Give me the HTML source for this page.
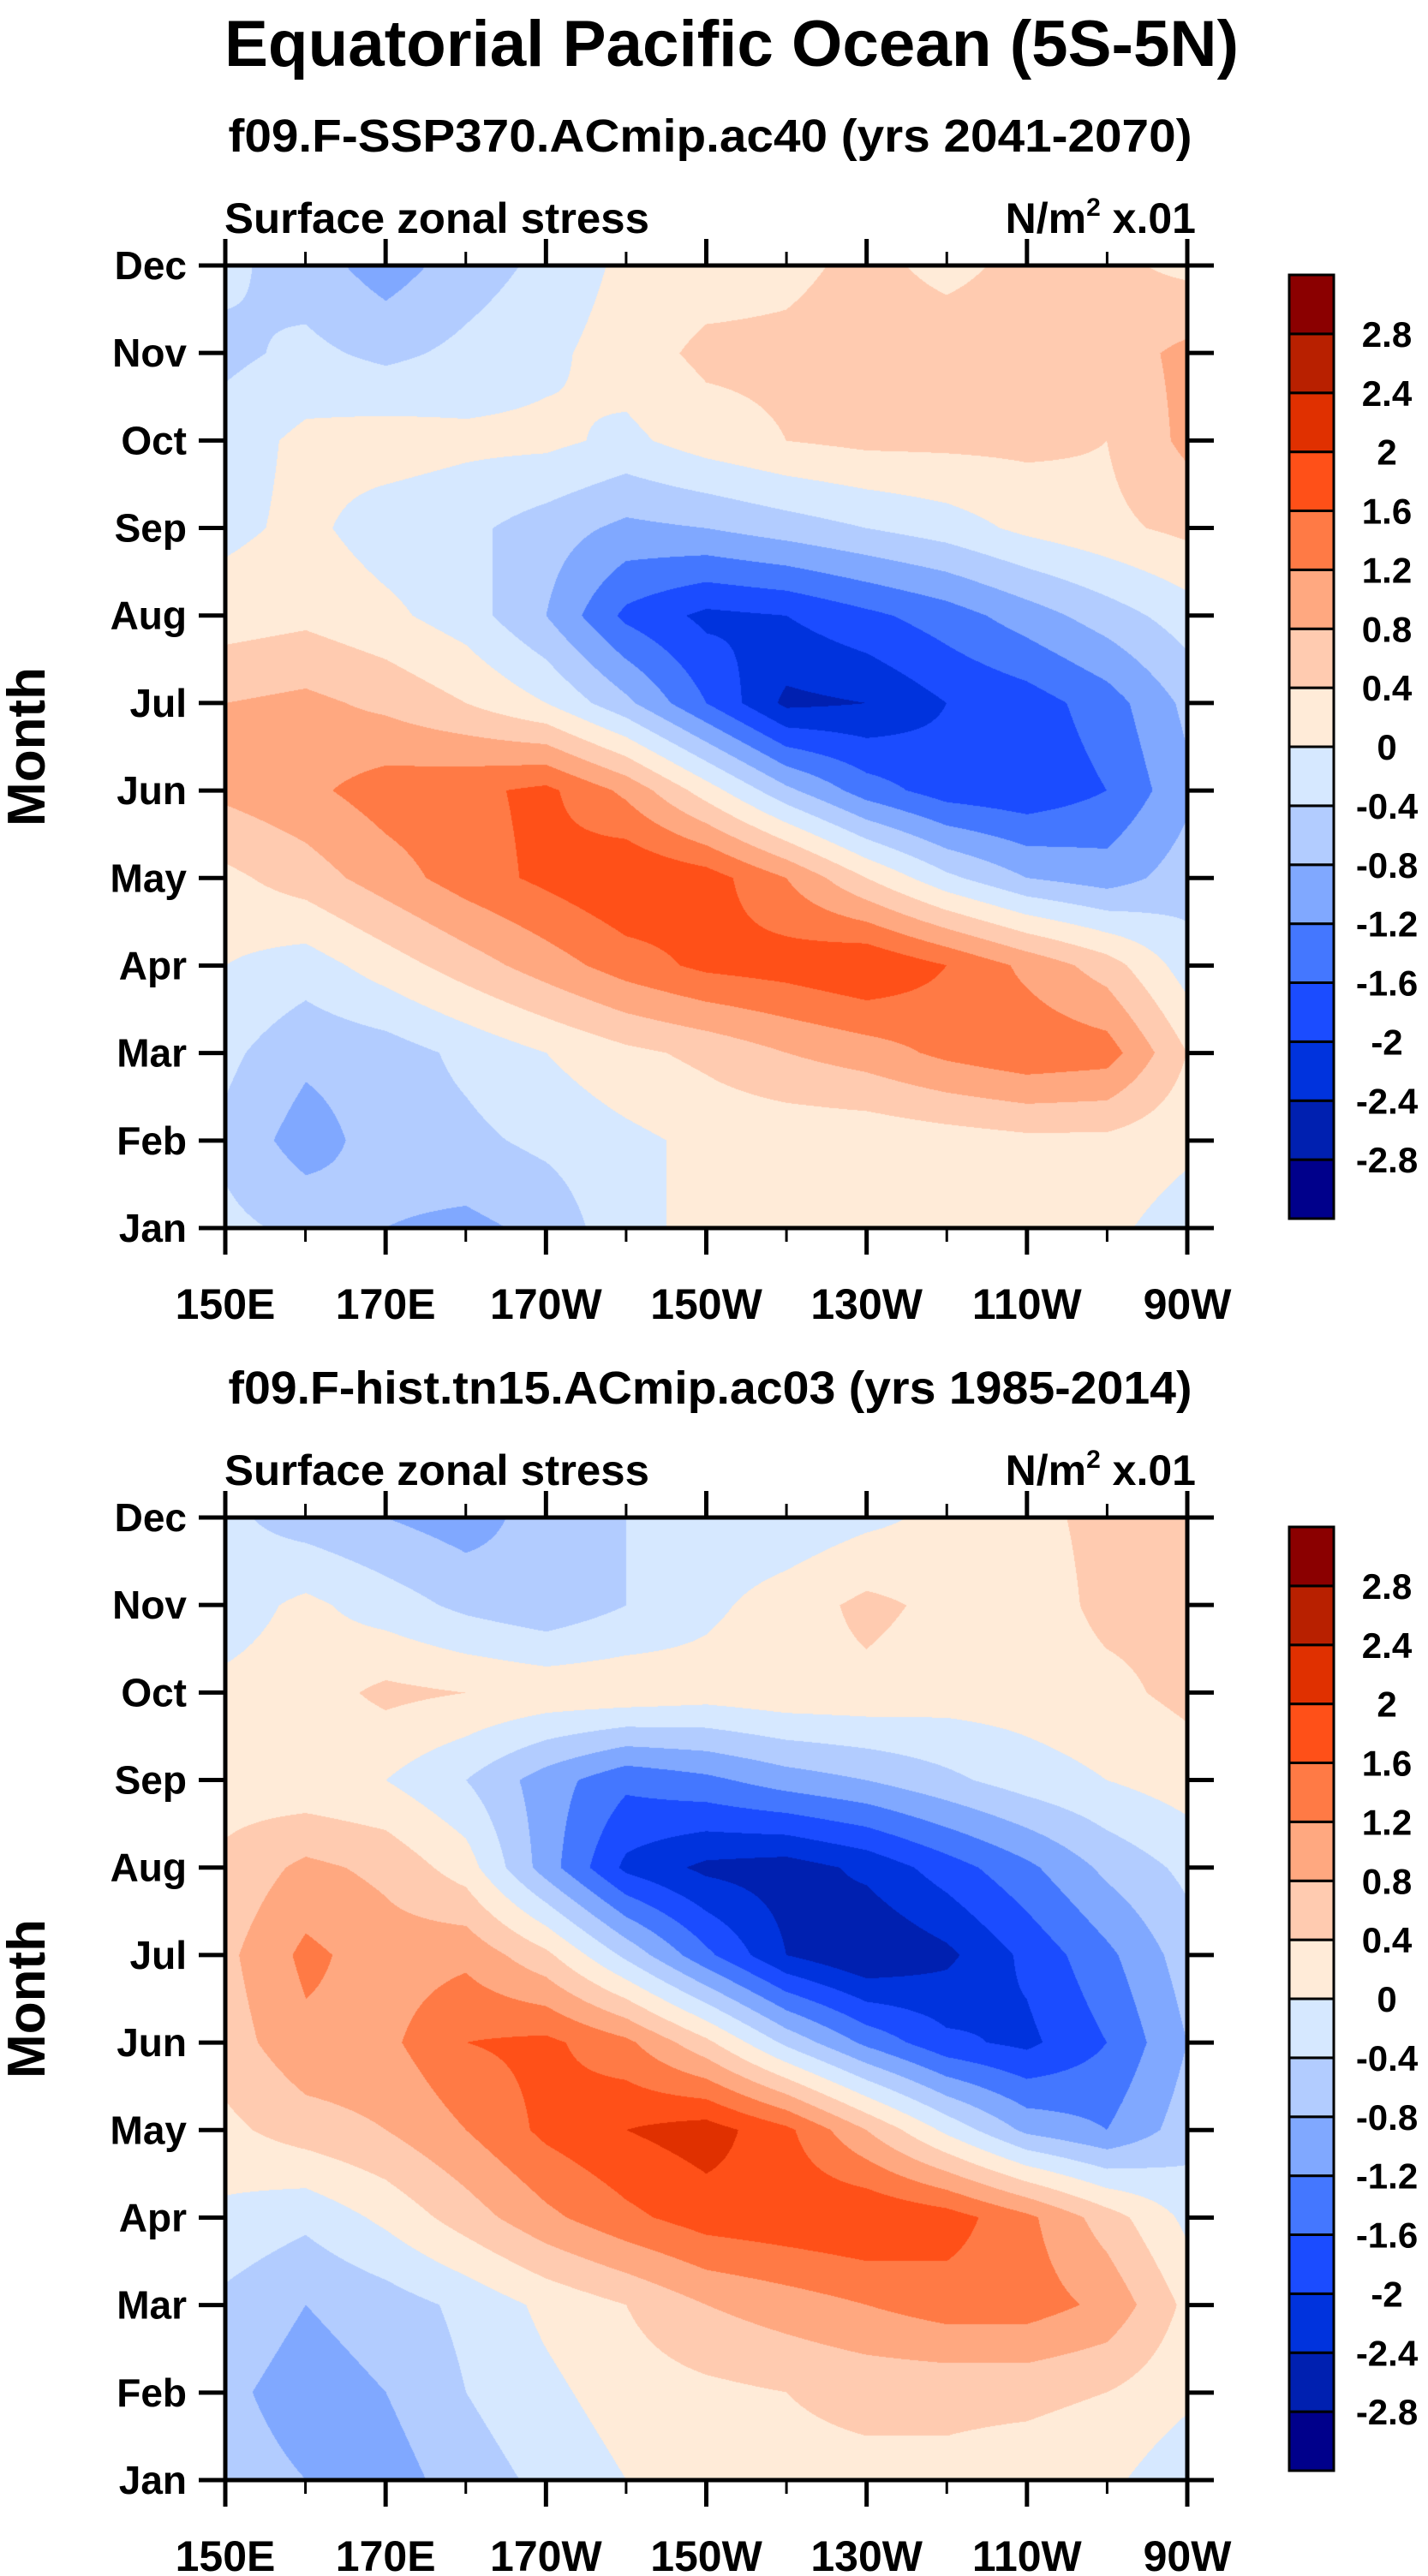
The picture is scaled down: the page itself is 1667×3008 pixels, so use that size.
<!DOCTYPE html>
<html><head><meta charset="utf-8">
<style>
html,body{margin:0;padding:0;background:#fff;}
#wrap{position:relative;width:1667px;height:3008px;overflow:hidden;}
canvas{position:absolute;}
svg{position:absolute;left:0;top:0;}
text{font-family:"Liberation Sans",Arial,sans-serif;font-weight:bold;fill:#000;}
</style></head>
<body>
<div id="wrap">
<canvas id="c1" width="1123" height="1124" style="left:263px;top:310px"></canvas>
<canvas id="c2" width="1123" height="1124" style="left:263px;top:1772px"></canvas>
<svg id="ov" width="1667" height="3008"></svg>
</div>
<script>
const lons = [150,160,170,180,190,200,210,220,230,240,250,260,270];
const lonLabels = ["150E","170E","170W","150W","130W","110W","90W"];
const months = ["Jan","Feb","Mar","Apr","May","Jun","Jul","Aug","Sep","Oct","Nov","Dec"];
const levels = [-2.8,-2.4,-2,-1.6,-1.2,-0.8,-0.4,0,0.4,0.8,1.2,1.6,2,2.4,2.8];
const levelLabels = ["-2.8","-2.4","-2","-1.6","-1.2","-0.8","-0.4","0","0.4","0.8","1.2","1.6","2","2.4","2.8"];
const colors = ["#00008b","#0020b0","#0033dd","#1b4cff","#4477ff","#80a8ff","#b2ccff","#d6e8ff","#ffebd8","#ffcbb0","#ffa880","#ff7a45","#ff5018","#e03000","#b82000","#8b0000"];
// rows Jan..Dec, columns lons
const ssp370 = [
[-0.3,-0.5,-0.8,-0.9,-0.7,-0.1,0.1,0.2,0.2,0.3,0.2,0.1,-0.2],
[-0.5,-1.0,-0.6,-0.5,-0.3,-0.1,0.1,0.1,0.1,0.2,0.3,0.3,0.1],
[-0.3,-0.7,-0.6,-0.3,0.0,0.3,0.5,0.8,1.0,1.3,1.5,1.4,0.4],
[0.0,-0.2,0.2,0.6,1.0,1.4,1.7,1.8,2.0,1.6,1.1,0.6,-0.2],
[0.3,0.6,1.0,1.4,1.7,2.0,1.8,1.2,0.4,-0.3,-0.8,-1.0,-0.6],
[0.9,1.1,1.4,1.5,1.7,1.1,0.2,-0.7,-1.4,-1.8,-1.9,-1.6,-0.9],
[0.8,0.9,0.7,0.4,0.0,-0.7,-1.6,-2.5,-2.4,-2.0,-1.8,-1.4,-0.7],
[0.2,0.3,0.1,-0.2,-0.8,-1.7,-2.1,-2.0,-1.7,-1.4,-1.0,-0.6,-0.2],
[-0.1,0.1,-0.2,-0.3,-0.6,-0.9,-0.8,-0.6,-0.4,-0.2,0.1,0.3,0.5],
[-0.2,0.1,0.2,0.1,0.1,-0.1,0.2,0.4,0.5,0.5,0.5,0.4,0.9],
[-0.5,-0.3,-0.5,-0.3,-0.1,0.2,0.5,0.5,0.6,0.6,0.6,0.6,0.9],
[-0.3,-0.6,-1.0,-0.6,-0.3,0.1,0.2,0.3,0.5,0.3,0.5,0.5,0.3]
];
const hist = [
[-0.6,-0.8,-1.0,-0.6,-0.3,0.0,0.2,0.3,0.3,0.3,0.2,0.1,-0.3],
[-0.7,-1.0,-0.8,-0.4,-0.1,0.2,0.3,0.4,0.5,0.5,0.5,0.4,0.1],
[-0.5,-0.8,-0.6,-0.3,0.1,0.4,0.8,1.0,1.2,1.4,1.4,1.1,0.3],
[-0.1,-0.3,0.1,0.6,1.1,1.5,1.8,1.9,2.0,1.8,1.3,0.6,-0.1],
[0.3,0.6,0.8,1.2,1.7,2.0,2.2,1.7,0.8,-0.1,-0.9,-1.2,-0.6],
[0.6,1.1,1.1,1.6,1.7,1.3,0.5,-0.5,-1.3,-1.9,-2.1,-1.6,-0.8],
[0.7,1.3,1.0,1.1,0.5,-0.5,-1.5,-2.4,-2.8,-2.5,-1.9,-1.3,-0.6],
[0.5,0.9,0.7,0.2,-1.0,-2.1,-2.5,-2.6,-2.3,-1.8,-1.3,-0.7,-0.3],
[0.2,0.1,0.0,-0.4,-1.0,-1.5,-1.3,-1.0,-0.8,-0.5,-0.2,0.0,0.2],
[0.1,0.2,0.5,0.4,0.3,0.3,0.2,0.3,0.3,0.2,0.2,0.3,0.5],
[-0.2,0.1,-0.2,-0.5,-0.7,-0.4,-0.1,0.2,0.5,0.3,0.2,0.5,0.5],
[-0.3,-0.6,-0.8,-1.0,-0.6,-0.4,-0.3,-0.3,-0.1,0.1,0.3,0.5,0.5]
];

const PX0=263, PX1=1386, PW=PX1-PX0, PH=1124;
function xScale(lon){return PX0+(lon-150)/120*PW;}
function colorFor(v){let i=0;while(i<levels.length&&v>=levels[i])i++;return colors[i];}
function hexRGB(h){return [parseInt(h.substr(1,2),16),parseInt(h.substr(3,2),16),parseInt(h.substr(5,2),16)];}

function drawPanel(id,data){
  const cv=document.getElementById(id),ctx=cv.getContext('2d');
  const W=cv.width,H=cv.height,img=ctx.createImageData(W,H);
  const nx=lons.length-1, ny=months.length-1;
  for(let py=0;py<H;py++){
    const fy=(H-1-py)/(H-1)*ny; let j=Math.min(Math.floor(fy),ny-1); const ty=fy-j;
    for(let px=0;px<W;px++){
      const fx=px/(W-1)*nx; let i=Math.min(Math.floor(fx),nx-1); const tx=fx-i;
      const v=(1-ty)*((1-tx)*data[j][i]+tx*data[j][i+1])+ty*((1-tx)*data[j+1][i]+tx*data[j+1][i+1]);
      const c=hexRGB(colorFor(v)); const k=(py*W+px)*4;
      img.data[k]=c[0];img.data[k+1]=c[1];img.data[k+2]=c[2];img.data[k+3]=255;
    }
  }
  ctx.putImageData(img,0,0);
}
drawPanel('c1',ssp370);
drawPanel('c2',hist);

const NS='http://www.w3.org/2000/svg', ov=document.getElementById('ov');
function mk(tag,attrs,parent){const e=document.createElementNS(NS,tag);for(const k in attrs)e.setAttribute(k,attrs[k]);(parent||ov).appendChild(e);return e;}

const t0=mk('text',{x:854,y:77,'font-size':76,'text-anchor':'middle',textLength:1184,lengthAdjust:'spacingAndGlyphs'});
t0.textContent='Equatorial Pacific Ocean (5S-5N)';



function panel(top,subtitle,tag){
  const bot=top+PH;
  const g=mk('g',{});
  
  
  const st=mk('text',{x:829,y:top-133,'font-size':54,'text-anchor':'middle',textLength:1125,lengthAdjust:'spacingAndGlyphs'},g);
  st.textContent=subtitle;
  
  
  const ls=mk('text',{x:262,y:top-38,'font-size':50,textLength:496,lengthAdjust:'spacingAndGlyphs'},g);
  ls.textContent='Surface zonal stress';
  
  
  const rs=mk('text',{x:1396,y:top-38,'font-size':50,'text-anchor':'end'},g);
  rs.innerHTML='N/m<tspan dy="-20" font-size="30">2</tspan><tspan dy="20"> x.01</tspan>';
  
  
  const fr=mk('rect',{x:PX0,y:top,width:PW,height:PH,fill:'none',stroke:'#000','stroke-width':5},g);
  
  
  const mstep=PH/11;
  months.forEach((m,i)=>{
    const y=bot-i*mstep;
    mk('line',{x1:PX0-31,x2:PX0,y1:y,y2:y,stroke:'#000','stroke-width':5},g);
    mk('line',{x1:PX1,x2:PX1+31,y1:y,y2:y,stroke:'#000','stroke-width':5},g);
    const t=mk('text',{x:218,y:y+16,'font-size':46,'text-anchor':'end'},g);
    t.textContent=m;
    
    
  });
  for(let lon=150;lon<=270;lon+=10){
    const x=xScale(lon), major=(lon-150)%20===0, L=major?31:16;
    mk('line',{x1:x,x2:x,y1:top-L,y2:top,stroke:'#000','stroke-width':major?5:3},g);
    mk('line',{x1:x,x2:x,y1:bot,y2:bot+L,stroke:'#000','stroke-width':major?5:3},g);
  }
  lonLabels.forEach((l,i)=>{
    const t=mk('text',{x:xScale(150+i*20),y:bot+106,'font-size':50,'text-anchor':'middle'},g);
    t.textContent=l;
    
    
  });
  const yt=mk('text',{x:0,y:0,'font-size':62,'text-anchor':'middle',transform:'translate(52,'+(top+PH/2)+') rotate(-90)'},g);
  yt.textContent='Month';
  
  
  const cbTop=top+11, cbH=1102, bh=cbH/colors.length;
  const cb=mk('g',{},g);
  
  
  colors.forEach((c,i)=>{
    const r=mk('rect',{x:1505,y:cbTop+cbH-(i+1)*bh,width:52,height:bh,fill:c,stroke:'#000','stroke-width':3},cb);
    
    
  });
  levelLabels.forEach((l,i)=>{
    const t=mk('text',{x:1619,y:cbTop+cbH-(i+1)*bh+15,'font-size':42,'text-anchor':'middle'},cb);
    t.textContent=l;
    
    
  });
}
panel(310,'f09.F-SSP370.ACmip.ac40 (yrs 2041-2070)','ssp370');
panel(1772,'f09.F-hist.tn15.ACmip.ac03 (yrs 1985-2014)','hist');
</script>
</body></html>
